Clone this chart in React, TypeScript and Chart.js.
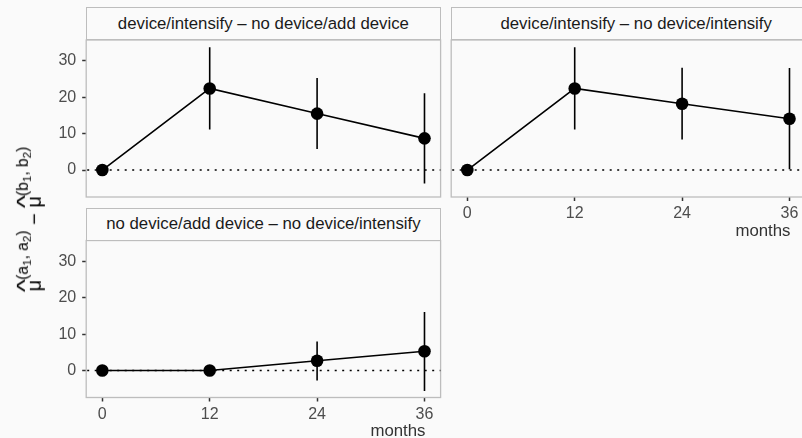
import React, { useEffect, useRef } from "react";
import { Chart, registerables } from "chart.js";

Chart.register(...registerables);

// ---- data ----
const MONTHS = [0, 12, 24, 36];
const X_TICKS = [0, 12, 24, 36];
const Y_TICKS = [0, 10, 20, 30];

const P1_TITLE = "device/intensify – no device/add device";
const P1_EST = [0, 22.4, 15.5, 8.7];
const P1_LO = [0, 11.1, 5.8, -3.7];
const P1_HI = [0, 33.7, 25.3, 21.1];

const P2_TITLE = "device/intensify – no device/intensify";
const P2_EST = [0, 22.4, 18.2, 14.1];
const P2_LO = [0, 11.1, 8.4, 0.2];
const P2_HI = [0, 33.7, 28.1, 28.0];

const P3_TITLE = "no device/add device – no device/intensify";
const P3_EST = [0, 0, 2.7, 5.3];
const P3_LO = [0, 0, -2.7, -5.6];
const P3_HI = [0, 0, 8.0, 16.1];

const X_TITLE = "months";

// ---- style ----
const FONT = "'Liberation Sans', Arial, Helvetica, sans-serif";
const BG = "#fafafa";
const BORDER = "#bdbdbd";
const TICK_COLOR = "#4d4d4d";
const TICK_SIZE = 16;
const STRIP_SIZE = 16.8;
const X_MIN = -1.8;
const X_MAX = 37.8;
const Y_MIN = -7.4;
const Y_MAX = 35.7;
const H = 438;

type PanelCfg = {
  est: number[];
  lo: number[];
  hi: number[];
  pad: { left: number; top: number; right: number; bottom: number };
  showX: boolean;
  showY: boolean;
};

function decoPlugin(lo: number[], hi: number[], showX: boolean) {
  return {
    id: "panelDeco",
    beforeDatasetsDraw(chart: any) {
      const { ctx, chartArea: a, scales } = chart;
      const xs = scales.x;
      const ys = scales.y;
      ctx.save();
      ctx.strokeStyle = BORDER;
      ctx.lineWidth = 1.3;
      ctx.strokeRect(a.left, a.top, a.right - a.left, a.bottom - a.top);
      const y0 = ys.getPixelForValue(0);
      ctx.beginPath();
      ctx.rect(a.left, a.top, a.right - a.left, a.bottom - a.top);
      ctx.clip();
      ctx.strokeStyle = "#000";
      ctx.lineWidth = 1.6;
      ctx.setLineDash([2, 5.5]);
      ctx.beginPath();
      ctx.moveTo(a.left + 1, y0);
      ctx.lineTo(a.right, y0);
      ctx.stroke();
      ctx.setLineDash([]);
      ctx.lineWidth = 1.6;
      for (let i = 0; i < MONTHS.length; i++) {
        if (lo[i] === hi[i]) continue;
        const x = xs.getPixelForValue(MONTHS[i]);
        ctx.beginPath();
        ctx.moveTo(x, ys.getPixelForValue(lo[i]));
        ctx.lineTo(x, ys.getPixelForValue(hi[i]));
        ctx.stroke();
      }
      ctx.restore();
    },
    afterDraw(chart: any) {
      if (!showX) return;
      const { ctx, chartArea: a, scales } = chart;
      const x36 = scales.x.getPixelForValue(MONTHS[MONTHS.length - 1]);
      ctx.save();
      ctx.font = `${STRIP_SIZE}px ${FONT}`;
      ctx.fillStyle = "#333";
      ctx.textAlign = "right";
      ctx.textBaseline = "alphabetic";
      ctx.fillText(X_TITLE, x36 + 1, a.bottom + 38.5);
      ctx.restore();
    },
  };
}

function makeChart(canvas: HTMLCanvasElement, p: PanelCfg) {
  return new Chart(canvas, {
    type: "line",
    data: {
      datasets: [
        {
          data: MONTHS.map((m, i) => ({ x: m, y: p.est[i] })),
          borderColor: "#000",
          borderWidth: 1.6,
          pointRadius: 6.3,
          pointBackgroundColor: "#000",
          pointBorderColor: "#000",
          pointBorderWidth: 0,
          tension: 0,
        },
      ],
    },
    options: {
      animation: false,
      responsive: false,
      events: [],
      layout: { padding: p.pad, autoPadding: false },
      plugins: {
        legend: { display: false },
        tooltip: { enabled: false },
        title: { display: false },
      },
      scales: {
        x: {
          type: "linear",
          display: p.showX,
          min: X_MIN,
          max: X_MAX,
          afterBuildTicks: (s: any) => {
            s.ticks = X_TICKS.map((v) => ({ value: v }));
          },
          afterFit: (s: any) => {
            s.height = p.showX ? 40 : 0;
          },
          grid: {
            drawOnChartArea: false,
            drawTicks: true,
            tickLength: 4,
            tickColor: "#333",
            tickWidth: 1.5,
          },
          border: { display: false },
          ticks: {
            padding: 3,
            color: TICK_COLOR,
            font: { family: FONT, size: TICK_SIZE },
            maxRotation: 0,
            callback: (v: any) => String(v),
          },
        },
        y: {
          type: "linear",
          display: p.showY,
          min: Y_MIN,
          max: Y_MAX,
          afterBuildTicks: (s: any) => {
            s.ticks = Y_TICKS.map((v) => ({ value: v }));
          },
          afterFit: (s: any) => {
            s.width = p.showY ? 50 : 0;
          },
          grid: {
            drawOnChartArea: false,
            drawTicks: true,
            tickLength: 4,
            tickColor: "#333",
            tickWidth: 1.5,
          },
          border: { display: false },
          ticks: {
            padding: 6,
            color: TICK_COLOR,
            font: { family: FONT, size: TICK_SIZE },
            callback: (v: any) => String(v),
          },
        },
      },
    },
    plugins: [decoPlugin(p.lo, p.hi, p.showX)],
  } as any);
}

function Strip({ left, top, width, text }: { left: number; top: number; width: number; text: string }) {
  return (
    <div
      style={{
        position: "absolute",
        left,
        top,
        width,
        height: 33,
        boxSizing: "border-box",
        border: `1.3px solid ${BORDER}`,
        background: BG,
        color: "#1a1a1a",
        fontFamily: FONT,
        fontSize: STRIP_SIZE,
        display: "flex",
        alignItems: "center",
        justifyContent: "center",
        whiteSpace: "nowrap",
      }}
    >
      {text}
    </div>
  );
}

function MuHat() {
  return (
    <span style={{ position: "relative", display: "inline-block" }}>
      μ
      <span
        style={{
          position: "absolute",
          left: 0,
          right: 0,
          top: "-0.38em",
          textAlign: "center",
          fontSize: "1.1em",
          lineHeight: 1,
          transform: "scaleX(1.25)",
        }}
      >
        ^
      </span>
    </span>
  );
}

export default function App() {
  const c1 = useRef<HTMLCanvasElement>(null);
  const c2 = useRef<HTMLCanvasElement>(null);
  const c3 = useRef<HTMLCanvasElement>(null);

  useEffect(() => {
    const charts = [
      makeChart(c1.current!, {
        est: P1_EST,
        lo: P1_LO,
        hi: P1_HI,
        pad: { left: 36.2, top: 40, right: 361.4, bottom: 241 },
        showX: false,
        showY: true,
      }),
      makeChart(c2.current!, {
        est: P2_EST,
        lo: P2_LO,
        hi: P2_HI,
        pad: { left: 451.2, top: 40, right: 24.4, bottom: 201 },
        showX: true,
        showY: false,
      }),
      makeChart(c3.current!, {
        est: P3_EST,
        lo: P3_LO,
        hi: P3_HI,
        pad: { left: 36.2, top: 240.5, right: 361.4, bottom: 0.5 },
        showX: true,
        showY: true,
      }),
    ];
    return () => charts.forEach((c) => c.destroy());
  }, []);

  const cStyle = (w: number): React.CSSProperties => ({
    position: "absolute",
    left: 0,
    top: 0,
    width: w,
    height: H,
  });

  const supStyle: React.CSSProperties = { fontSize: "0.78em", verticalAlign: "0.85em" };
  const subStyle: React.CSSProperties = { fontSize: "0.75em", verticalAlign: "-0.25em" };

  return (
    <div
      style={{
        position: "fixed",
        left: 0,
        top: 0,
        width: 802,
        height: H,
        overflow: "hidden",
        background: BG,
      }}
    >
      <canvas ref={c1} width={802} height={H} style={cStyle(802)} />
      <canvas ref={c2} width={830} height={H} style={cStyle(830)} />
      <canvas ref={c3} width={802} height={H} style={cStyle(802)} />
      <Strip left={86.2} top={7.3} width={354.4} text={P1_TITLE} />
      <Strip left={451.2} top={7.3} width={370} text={P2_TITLE} />
      <Strip left={86.2} top={207.7} width={354.4} text={P3_TITLE} />
      <div
        style={{
          position: "absolute",
          left: 30,
          top: 219,
          transform: "translate(-50%, -50%) rotate(-90deg)",
          whiteSpace: "nowrap",
          fontFamily: FONT,
          fontSize: 20,
          lineHeight: 1.2,
          color: "#000",
        }}
      >
        <MuHat />
        <span style={supStyle}>
          (a<span style={subStyle}>1</span>, a<span style={subStyle}>2</span>)
        </span>
        {" − "}
        <MuHat />
        <span style={supStyle}>
          (b<span style={subStyle}>1</span>, b<span style={subStyle}>2</span>)
        </span>
      </div>
    </div>
  );
}
